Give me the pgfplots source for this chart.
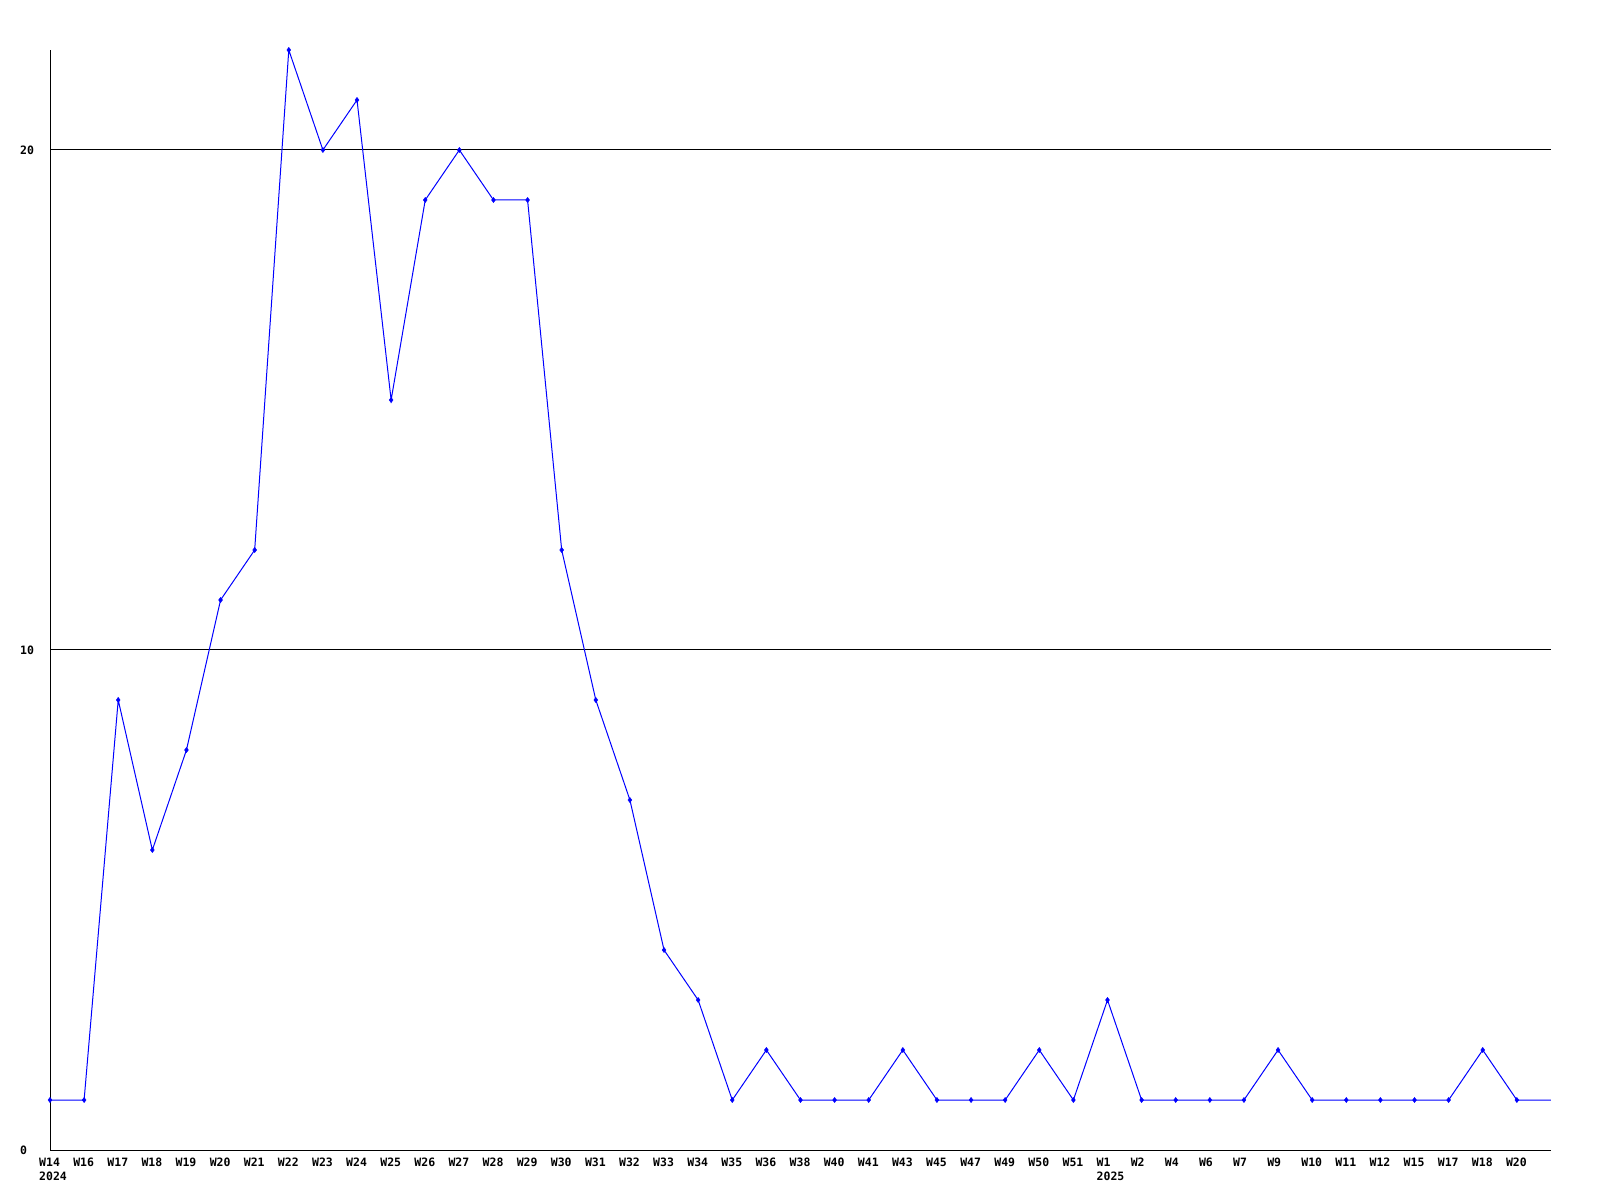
\documentclass[border=0pt]{standalone}
\usepackage{pgfplots}
\pgfplotsset{compat=1.18}
\usepackage{pgfplotstable}
\usepackage{fontspec}
\setmainfont{DejaVu Sans Mono}
\pgfplotstableread{
x y
0 1
1 1
2 9
3 6
4 8
5 11
6 12
7 22
8 20
9 21
10 15
11 19
12 20
13 19
14 19
15 12
16 9
17 7
18 4
19 3
20 1
21 2
22 1
23 1
24 1
25 2
26 1
27 1
28 1
29 2
30 1
31 3
32 1
33 1
34 1
35 1
36 2
37 1
38 1
39 1
40 1
41 1
42 2
43 1
}\marked
\pgfplotstableread{
x y
0 1
1 1
2 9
3 6
4 8
5 11
6 12
7 22
8 20
9 21
10 15
11 19
12 20
13 19
14 19
15 12
16 9
17 7
18 4
19 3
20 1
21 2
22 1
23 1
24 1
25 2
26 1
27 1
28 1
29 2
30 1
31 3
32 1
33 1
34 1
35 1
36 2
37 1
38 1
39 1
40 1
41 1
42 2
43 1
44 1
}\full
\begin{document}
\begin{tikzpicture}
\useasboundingbox (0,0) rectangle (1600pt,1200pt);
\begin{axis}[
  at={(50pt,50pt)}, anchor=south west,
  scale only axis, width=1501pt, height=1100pt,
  xmin=0, xmax=44, ymin=0, ymax=22,
  axis x line*=bottom, axis y line*=left,
  axis line style={black, line width=1pt, -},
  xtick={0,...,43},
  xticklabels={{W14\\2024},W16,W17,W18,W19,W20,W21,W22,W23,W24,W25,W26,W27,W28,W29,W30,W31,W32,W33,W34,W35,W36,W38,W40,W41,W43,W45,W47,W49,W50,W51,{W1\\2025},W2,W4,W6,W7,W9,W10,W11,W12,W15,W17,W18,W20},
  ytick={0,10,20},
  yticklabels={0,10,20},
  major tick length=0pt,
  ymajorgrids, grid style={black, line width=1pt},
  tick label style={font=\fontsize{11.5}{14}\bfseries, inner sep=0pt},
  xticklabel style={anchor=north west, align=left, xshift=-11pt, yshift=-8pt},
  yticklabel style={anchor=west, xshift=-30pt},
  clip=false,
]
\addplot[blue, line width=1pt, no marks] table[x=x,y=y] {\full};
\addplot[blue, only marks, mark=diamond*, mark size=2.6pt] table[x=x,y=y] {\marked};
\end{axis}
\end{tikzpicture}
\end{document}
